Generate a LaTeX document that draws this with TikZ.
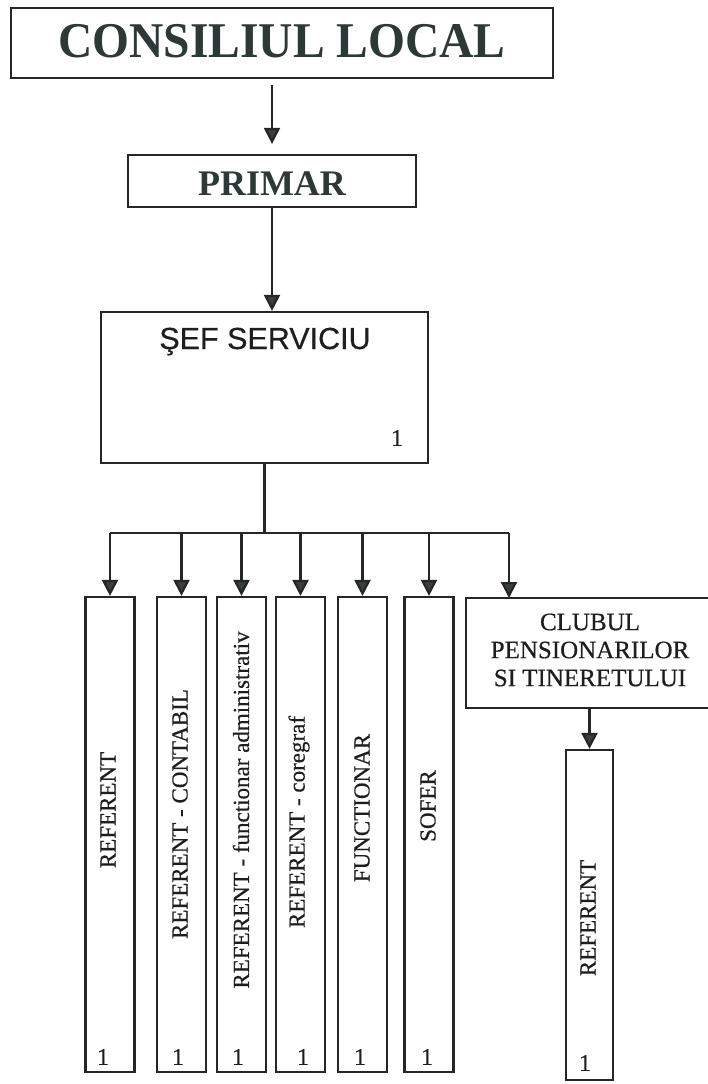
\documentclass[tikz,border=0pt]{standalone}
\usepackage{fontspec}
\setmainfont{Liberation Serif}
\newfontfamily\arialfont[FakeBold=0.4]{Liberation Sans}
\newfontfamily\scanserif[FakeBold=0.5]{Liberation Serif}
\usetikzlibrary{arrows.meta}
\definecolor{linec}{HTML}{262626}
\definecolor{headc}{HTML}{36403D}
\definecolor{txtc}{HTML}{1E1E1E}
\definecolor{titlec}{HTML}{2C3936}
\begin{document}
\begin{tikzpicture}[x=1pt,y=-1pt,
 box/.style={draw=linec,line width=2.2pt,inner sep=0pt,fill=white},
 conn/.style={draw=linec,line width=2.2pt},
 arr/.style={conn,-{Triangle[length=16pt,width=16pt,fill=headc]}},
 vtxt/.style={rotate=90,text=txtc,font=\scanserif\fontsize{23}{23}\selectfont,inner sep=0pt},
 num/.style={text=txtc,font=\scanserif\fontsize{24}{24}\selectfont,inner sep=0pt},
 vbox/.style={box,minimum width=49pt,minimum height=475pt},
]
\useasboundingbox (0,0) rectangle (708,1084);
\fill[white] (0,0) rectangle (708,1084);

% top boxes
\node[box,minimum width=542pt,minimum height=70pt] (cons) at (282,43) {};
\node[anchor=base,inner sep=0pt,text=titlec,font=\fontsize{50}{50}\bfseries\selectfont] (consT) at (282,57) {\scalebox{0.95}[1]{CONSILIUL LOCAL}};

\node[box,minimum width=288pt,minimum height=52pt] (primar) at (272,181) {};
\node[anchor=base,inner sep=0pt,text=titlec,font=\fontsize{36}{36}\bfseries\selectfont] (primarT) at (272,195) {PRIMAR};

\node[box,minimum width=327pt,minimum height=151pt] (sef) at (264.5,387.5) {};
\node[anchor=base,inner sep=0pt,text=txtc,font=\arialfont\fontsize{30.5}{30.5}\selectfont] (sefT) at (265,349) {ŞEF SERVICIU};
\node[num] (sefN) at (397,438) {1};

% vertical boxes
\node[vbox] (r1) at (110,834.5) {};
\node[vbox] (r2) at (181.5,834.5) {};
\node[vbox] (r3) at (241.5,834.5) {};
\node[vbox] (r4) at (300.5,834.5) {};
\node[vbox] (r5) at (362.5,834.5) {};
\node[vbox] (r6) at (429,834.5) {};

\node[vtxt] (r1T) at (108,810) {REFERENT};
\node[vtxt] (r2T) at (180,814) {REFERENT - CONTABIL};
\node[vtxt] (r3T) at (241,810) {REFERENT - functionar administrativ};
\node[vtxt] (r4T) at (299,822) {REFERENT - coregraf};
\node[vtxt] (r5T) at (362,808) {FUNCTIONAR};
\node[vtxt] (r6T) at (428,806) {SOFER};

\node[num] (r1N) at (103,1057) {1};
\node[num] (r2N) at (178,1057) {1};
\node[num] (r3N) at (238,1057) {1};
\node[num] (r4N) at (303,1057) {1};
\node[num] (r5N) at (360,1057) {1};
\node[num] (r6N) at (427,1057) {1};

% club
\node[box,minimum width=246pt,minimum height=110pt] (club) at (589,653) {};
\node[align=center,inner sep=0pt,text=txtc,font=\scanserif\fontsize{25}{28}\selectfont] (clubT) at (590,650) {CLUBUL\\PENSIONARILOR\\SI TINERETULUI};

\node[box,minimum width=47pt,minimum height=330pt] (r7) at (589.5,915) {};
\node[vtxt] (r7T) at (588,918) {REFERENT};
\node[num] (r7N) at (585,1063) {1};

% connectors
\coordinate (busL) at (110,533);
\coordinate (clubIn) at (509,598);

\draw[arr,shorten <=6pt,shorten >=10pt] (cons.south -| primar.north) -- (primar.north);
\draw[arr] (primar.south) -- (primar.south |- sef.north);
\draw[conn] (sef.south) -- (sef.south |- busL);
\draw[conn] (r1.north |- busL) -- (clubIn |- busL);
\foreach \r in {r1,r2,r3,r4,r5,r6}{
  \draw[arr] (\r.north |- busL) -- (\r.north);
}
\draw[arr] (clubIn |- busL) -- (clubIn);
\draw[arr] (club.south -| r7.north) -- (r7.north);
\end{tikzpicture}
\end{document}
